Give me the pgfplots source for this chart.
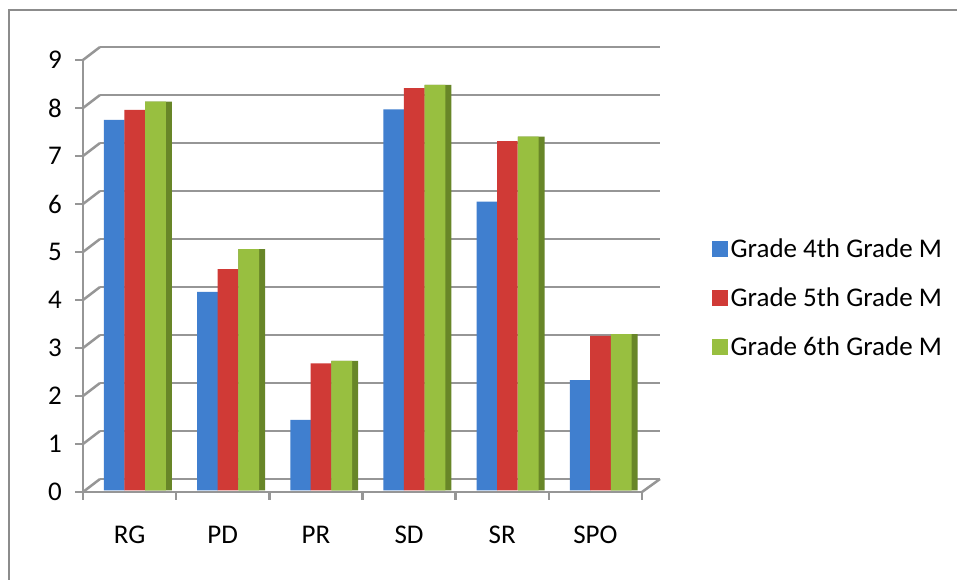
\documentclass[border=0pt]{standalone}
\usepackage{fontspec}
\setmainfont{Carlito}
\usepackage{pgfplots}
\pgfplotsset{compat=1.18}
\usepackage{pgfplotstable}

\definecolor{gridgray}{RGB}{150,150,150}
\definecolor{framegray}{RGB}{140,140,140}
\definecolor{blueF}{RGB}{64,127,207}
\definecolor{redF}{RGB}{208,58,54}
\definecolor{greenF}{RGB}{152,191,64}
\definecolor{greenS}{RGB}{104,134,40}
\newcommand\cf{\fontsize{27bp}{32bp}\selectfont}

\pgfplotstableread{
x g4 g5 g6
0 7.72 7.93 8.10
1 4.14 4.61 5.03
2 1.47 2.65 2.70
3 7.94 8.38 8.45
4 6.02 7.28 7.37
5 2.30 3.22 3.26
}\data

\begin{document}
\begin{tikzpicture}[x=1bp,y=1bp]
\useasboundingbox (0,0) rectangle (957,580);
\fill[white] (0,0) rectangle (957,580);
\draw[framegray, line width=2bp] (9,-2) -- (9,570) -- (959,570);

% back wall grid
\begin{axis}[at={(100bp,101bp)}, anchor=south west, scale only axis,
  width=560bp, height=432bp, xmin=0, xmax=1, ymin=0, ymax=9,
  ytick={0,...,9}, xtick=\empty, yticklabels={}, major tick length=0pt,
  axis line style={draw=none}, ymajorgrids,
  major grid style={gridgray, line width=2.5bp}]
\end{axis}

% side wall and floor diagonals
\foreach \k in {0,...,9} {
  \draw[gridgray, line width=2.5bp] (83,{88+48*\k}) -- (100,{101+48*\k});
}
\draw[gridgray, line width=2.5bp] (642,88) -- (660,101);

% front axis
\begin{axis}[at={(83bp,88bp)}, anchor=south west, scale only axis,
  width=559bp, height=432bp, xmin=-0.5, xmax=5.5, ymin=0, ymax=9,
  axis x line*=bottom, axis y line*=left,
  axis line style={gridgray, line width=2.5bp, -},
  tick style={gridgray, line width=2.5bp},
  tick align=outside, major tick length=8bp,
  ytick={0,...,9},
  xtick={-0.5,0.5,...,5.5}, xticklabels={},
  extra x ticks={0,...,5},
  extra x tick labels={RG,PD,PR,SD,SR,SPO},
  extra x tick style={major tick length=0pt, tick style={draw=none},
    xticklabel style={anchor=base, inner sep=0pt, yshift=-52bp, font=\cf}},
  /pgf/number format/assume math mode=true,
  yticklabel style={anchor=east, inner sep=0pt, xshift=-13bp, font=\cf},
  clip=false]
\end{axis}

% bars
\begin{axis}[at={(83bp,89.5bp)}, anchor=south west, scale only axis,
  width=559bp, height=432bp, xmin=-0.5, xmax=5.5, ymin=0, ymax=9,
  hide axis, ybar, bar width=20.7bp, clip=false,
  legend cell align=left,
  legend image code/.code={\fill[#1] (0bp,-8bp) rectangle (16bp,8bp);},
  legend style={at={(1.1252,0.446)}, anchor=west, draw=none, fill=none,
    inner sep=0pt, row sep=24bp, font=\cf,
    nodes={inner sep=2.5bp}}]
\addplot[ybar, bar width=26.7bp, bar shift=28.9bp, draw=none, fill=greenS, forget plot]
  table[x=x, y=g6]{\data};
\addplot[ybar, bar shift=-15.3bp, draw=none, fill=blueF]
  table[x=x, y=g4]{\data};
\addplot[ybar, bar shift=5.1bp, draw=none, fill=redF]
  table[x=x, y=g5]{\data};
\addplot[ybar, bar shift=25.9bp, draw=none, fill=greenF]
  table[x=x, y=g6]{\data};
\legend{Grade 4th Grade M, Grade 5th Grade M, Grade 6th Grade M}
\end{axis}
\end{tikzpicture}
\end{document}
